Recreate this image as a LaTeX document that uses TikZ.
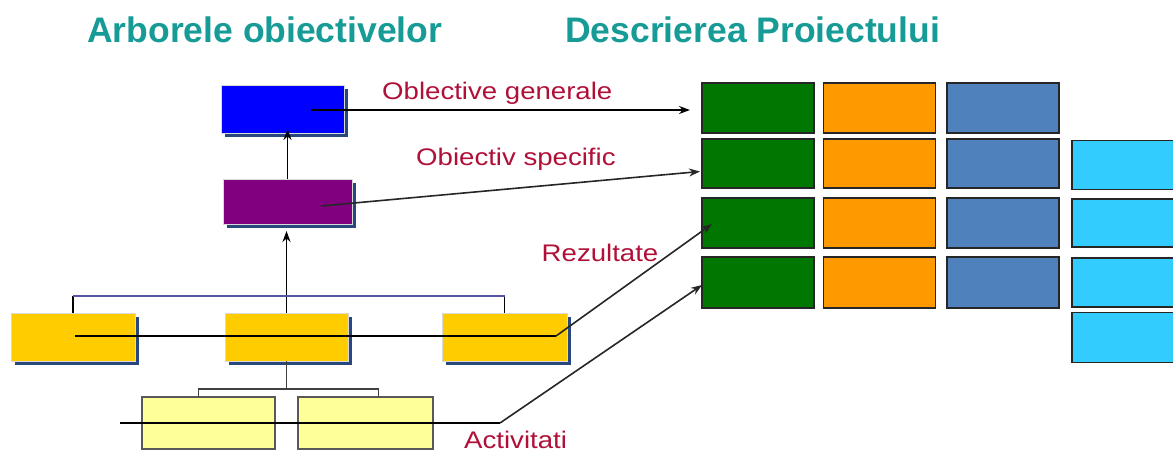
\documentclass[tikz,border=0pt]{standalone}
\usepackage{fontspec}
\setmainfont{Liberation Sans}
\usetikzlibrary{arrows.meta,shadows}
\definecolor{ttl}{RGB}{23,155,150}
\definecolor{lbl}{RGB}{176,16,56}
\definecolor{shd}{RGB}{40,72,125}
\definecolor{cblue}{RGB}{0,0,255}
\definecolor{cpurp}{RGB}{128,0,128}
\definecolor{cyel}{RGB}{255,204,0}
\definecolor{clyel}{RGB}{255,255,153}
\definecolor{cgreen}{RGB}{0,119,0}
\definecolor{corange}{RGB}{255,153,0}
\definecolor{csteel}{RGB}{79,129,189}
\definecolor{ccyan}{RGB}{51,204,255}
\definecolor{brk}{RGB}{85,85,160}
\tikzset{
  box/.style={rectangle,inner sep=0pt,outer sep=0pt},
  treebox/.style={box,draw=white!85!black,line width=0.6pt,
    drop shadow={shadow xshift=4pt,shadow yshift=-4pt,fill=shd,opacity=1}},
  lybox/.style={box,fill=clyel,draw=black!65,line width=1.4pt},
  gridbox/.style={box,draw=black!85,line width=1.6pt,minimum width=112pt},
  title/.style={font=\fontsize{35.5}{40}\selectfont\bfseries,text=ttl,anchor=base west,inner sep=0pt},
  label/.style={font=\fontsize{24}{28}\selectfont,text=lbl,anchor=base west,inner sep=0pt,xscale=1.15},
  arr/.style={-{Stealth[length=11pt,width=8pt]},line width=1.6pt,black},
  conn/.style={line width=1.8pt,black},
  brline/.style={line width=1.8pt,black},
}
\begin{document}
\begin{tikzpicture}[x=1pt,y=-1pt]
\useasboundingbox (0,0) rectangle (1173,452);
% titles
\node[title] (t1) at (87,42.7) {Arborele obiectivelor};
\node[title] (t2) at (565,42.7) {Descrierea Proiectului};
% tree boxes
\node[treebox,fill=cblue,minimum width=123pt,minimum height=48pt] (blue) at (282.5,109) {};
\node[treebox,fill=cpurp,minimum width=129pt,minimum height=45pt] (purp) at (287.5,201.5) {};
\node[treebox,fill=cyel,minimum width=124pt,minimum height=48pt] (yl) at (73,337) {};
\node[treebox,fill=cyel,minimum width=123pt,minimum height=48pt] (ym) at (286.5,337) {};
\node[treebox,fill=cyel,minimum width=125pt,minimum height=48pt] (yr) at (504.5,337) {};
\node[lybox,minimum width=133pt,minimum height=52pt] (ly1) at (208.5,423) {};
\node[lybox,minimum width=135pt,minimum height=52pt] (ly2) at (365.5,423) {};
% grid
\foreach \r/\y/\h in {1/108/50,2/163.5/49,3/223/50,4/282.5/51}{
  \node[gridbox,fill=cgreen,minimum height=\h pt] (g\r) at (758,\y) {};
  \node[gridbox,fill=corange,minimum height=\h pt] (o\r) at (879.5,\y) {};
  \node[gridbox,fill=csteel,minimum height=\h pt] (s\r) at (1003,\y) {};
}
\foreach \r/\y/\h in {2/165/49,3/223/48,4/282.5/49,5/337.5/50}{
  \node[gridbox,fill=ccyan,minimum height=\h pt] (c\r) at (1128,\y) {};
}
% tree connectors
\draw[arr,shorten >=-4pt] (purp.north) -- (purp.north |- blue.south);
\draw[arr,shorten >=7pt] (ym.north) -- (ym.north |- purp.south);
\draw[brline] (yl.north) -- ++(0,-17.5) coordinate (bl);
\draw[brline] (yr.north) -- ++(0,-17.5) coordinate (br);
\draw[line width=2pt,brk] (bl) -- (br);
\draw[brline,black!75] (ym.south) -- ++(0,28) coordinate (bm);
\draw[brline,black!75] ([xshift=-10pt]ly1.north) |- (bm) -| ([xshift=13pt]ly2.north);
% connectors to grid
\coordinate (bo) at (311,110);
\coordinate (bt) at (690,110);
\draw[arr] (bo) -- (bt);
\coordinate (po) at (321,206);
\coordinate (pt) at (700,171.5);
\draw[arr,black!85] (po) -- (pt);
\coordinate (ro) at (75,336);
\coordinate (rc) at (556,336);
\coordinate (rt) at (712,224);
\draw[conn] (ro) -- (rc);
\draw[arr,black!85] (rc) -- (rt);
\coordinate (ao) at (120,423);
\coordinate (ac) at (500,423);
\coordinate (at) at (702,285);
\draw[conn] (ao) -- (ac);
\draw[arr,black!85] (ac) -- (at);
% labels
\node[label] (l1) at (382,99.3) {Oblective generale};
\node[label] (l2) at (416,165) {Obiectiv specific};
\node[label] (l3) at (541.5,261.7) {Rezultate};
\node[label] (l4) at (464,448) {Activitati};
\end{tikzpicture}
\end{document}
